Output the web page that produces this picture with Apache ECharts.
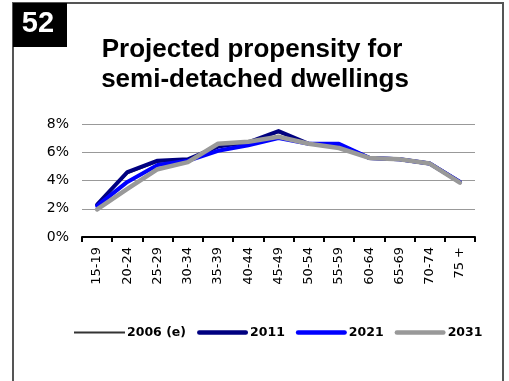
<!DOCTYPE html>
<html><head><meta charset="utf-8">
<script src="https://cdn.jsdelivr.net/npm/echarts@6/dist/echarts.min.js"></script>
<style>html,body{margin:0;padding:0;background:#fff}#c{width:509px;height:381px}</style>
</head><body><div id="c"></div>
<script>
var categories = ['15-19','20-24','25-29','30-34','35-39','40-44','45-49','50-54','55-59','60-64','65-69','70-74','75 +'];
var s2006 = [2.3,4.5,5.3,5.5,6.4,6.7,7.4,6.6,6.5,5.6,5.5,5.2,3.9];
var s2011 = [2.3,4.6,5.4,5.5,6.4,6.7,7.5,6.6,6.5,5.6,5.5,5.2,3.9];
var s2021 = [2.2,3.9,5.1,5.4,6.1,6.5,7.0,6.6,6.6,5.6,5.5,5.2,3.9];
var s2031 = [1.95,3.4,4.8,5.3,6.6,6.75,7.1,6.6,6.3,5.6,5.5,5.2,3.85];
var yTicks = [0,2,4,6,8];

var chart = echarts.init(document.getElementById('c'), null, {renderer:'canvas'});
var font = 'Liberation Sans, Arial, sans-serif';
var dfont = 'DejaVu Sans, sans-serif';
function ser(name, data, color, width){
  return {name:name, type:'line', data:data, symbol:'none', smooth:false,
    lineStyle:{color:color, width:width, cap:'round', join:'round'}, itemStyle:{color:color}};
}
var thinIcon = 'path://M0,0L50,0L50,2L0,2Z';
var thickIcon = 'path://M2.2,0L47.8,0A2.2,2.2,0,0,1,47.8,4.4L2.2,4.4A2.2,2.2,0,0,1,2.2,0Z';
chart.setOption({
  animation:false,
  graphic:[
    {type:'rect', shape:{x:13,y:3,width:490,height:400}, style:{fill:null, stroke:'#555', lineWidth:2}},
    {type:'rect', shape:{x:13,y:3,width:54,height:44}, style:{fill:'#000'}},
    {type:'text', style:{x:38, y:24, text:'52', fill:'#fff', font:'bold 29px '+font, align:'center', verticalAlign:'middle'}},
    {type:'text', style:{x:252, y:50, text:'Projected propensity for', fill:'#000', font:'bold 26px '+font, align:'center', verticalAlign:'middle'}},
    {type:'text', style:{x:255, y:80, text:'semi-detached dwellings', fill:'#000', font:'bold 26px '+font, align:'center', verticalAlign:'middle'}}
  ],
  grid:{left:82, right:34, top:124, bottom:144, containLabel:false},
  legend:{
    top:321, left:69, itemWidth:51, itemHeight:6, itemGap:11, symbolKeepAspect:true,
    textStyle:{fontFamily:dfont, fontWeight:'bold', fontSize:12.5, color:'#000', padding:[0,0,0,-3]},
    data:[
      {name:'2006 (e)', icon:thinIcon, itemStyle:{color:'#333'}},
      {name:'2011', icon:thickIcon, itemStyle:{color:'#000080'}},
      {name:'2021', icon:thickIcon, itemStyle:{color:'#0000ff'}},
      {name:'2031', icon:thickIcon, itemStyle:{color:'#999999'}}
    ]
  },
  xAxis:{type:'category', data:categories, boundaryGap:true,
    axisLine:{lineStyle:{color:'#000', width:2}},
    axisTick:{show:true, length:5, lineStyle:{color:'#000', width:2}, alignWithLabel:false},
    axisLabel:{rotate:90, fontFamily:dfont, fontSize:13, color:'#000', margin:10}},
  yAxis:{type:'value', min:0, max:8, interval:2,
    axisLine:{show:false}, axisTick:{show:false},
    splitLine:{lineStyle:{color:'#999', width:1}},
    axisLabel:{fontFamily:dfont, fontSize:14, color:'#000', margin:13,
      formatter:function(v){return yTicks.indexOf(v)>=0 ? v+'%' : '';}}},
  series:[
    ser('2006 (e)', s2006, '#333', 1.5),
    ser('2011', s2011, '#000080', 4),
    ser('2021', s2021, '#0000ff', 4),
    ser('2031', s2031, '#999999', 4.5)
  ]
});
</script></body></html>
